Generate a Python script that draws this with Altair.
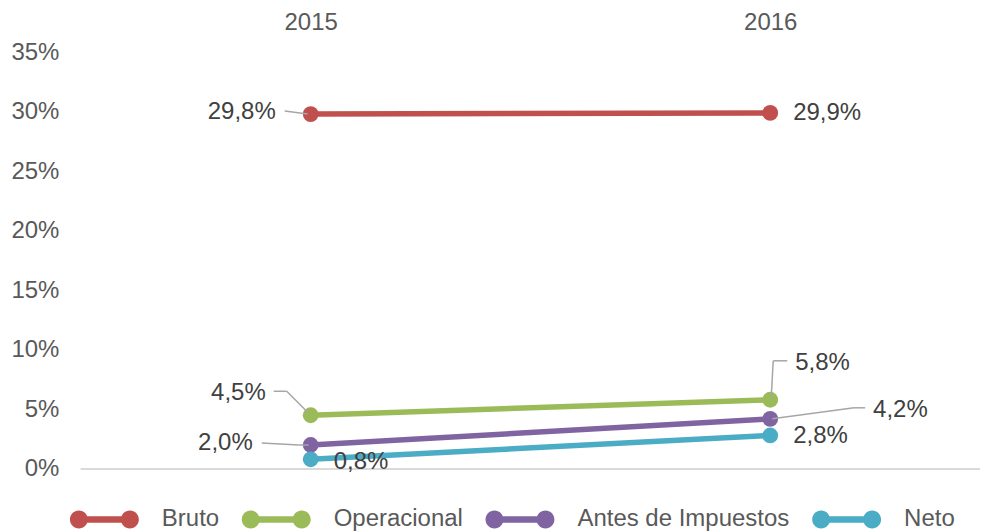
import altair as alt
import pandas as pd

# ---- data ----
years = [2015, 2016]
series = ["Bruto", "Operacional", "Antes de Impuestos", "Neto"]
bruto = [29.8, 29.9]
operacional = [4.5, 5.8]
antes_impuestos = [2.0, 4.2]
neto = [0.8, 2.8]
colors = ["#C0504D", "#9BBB59", "#8064A2", "#4BACC6"]
y_ticks = [0, 5, 10, 15, 20, 25, 30, 35]

values = {"Bruto": bruto, "Operacional": operacional,
          "Antes de Impuestos": antes_impuestos, "Neto": neto}

# ---- label placement (style, pixels relative to point) ----
label_style = {
    ("Bruto", 2015): ("right", -35, -2),
    ("Bruto", 2016): ("left", 23, 0),
    ("Operacional", 2015): ("right", -45, -22),
    ("Operacional", 2016): ("left", 25, -37),
    ("Antes de Impuestos", 2015): ("right", -58, -2),
    ("Antes de Impuestos", 2016): ("left", 103, -9),
    ("Neto", 2015): ("left", 23, 3),
    ("Neto", 2016): ("left", 23, 1),
}
leader_style = {
    ("Bruto", 2015): [(-26, -3), (-3, 0)],
    ("Operacional", 2015): [(-37, -24), (-24, -24), (-2, -2)],
    ("Operacional", 2016): [(17, -39), (3, -39), (1, -2)],
    ("Antes de Impuestos", 2015): [(-49, -2), (-12, 0), (-2, 0)],
    ("Antes de Impuestos", 2016): [(95, -11), (84, -11), (2, 0)],
}

rows, lab_rows, seg_rows = [], [], []
for s in series:
    for yr, v in zip(years, values[s]):
        rows.append({"serie": s, "year": yr, "value": v})
        side, dx, dy = label_style[(s, yr)]
        lab_rows.append({"serie": s, "year": yr, "value": v, "side": side, "dx": dx, "dy": dy})
        pts = leader_style.get((s, yr), [])
        for a, b in zip(pts[:-1], pts[1:]):
            seg_rows.append({"serie": s, "year": yr, "value": v,
                             "dx1": a[0], "dy1": a[1], "dx2": b[0], "dy2": b[1]})
df = pd.DataFrame(rows)
lab_df = pd.DataFrame(lab_rows)
seg_df = pd.DataFrame(seg_rows)

# ---- layout ----
W, H = 900, 417
px_per_year = 460
x_min = 2014.5
x_max = x_min + W / px_per_year
FONT = "Liberation Sans"
FS = 24
AXIS_COLOR = "#595959"

x_enc = alt.X("year:Q", scale=alt.Scale(domain=[x_min, x_max], nice=False, zero=False),
              axis=alt.Axis(orient="top", values=years, format="d", domain=False, ticks=False,
                            tickSize=0, grid=False, labelPadding=18, labelFontSize=FS,
                            labelColor=AXIS_COLOR, title=None))
y_enc = alt.Y("value:Q", scale=alt.Scale(domain=[0, 35], nice=False, zero=True),
              axis=alt.Axis(values=y_ticks, labelExpr="datum.value + '%'", domain=False,
                            ticks=False, tickSize=0, grid=False, labelPadding=22,
                            labelFontSize=FS, labelColor=AXIS_COLOR, title=None))

# legend glyph: two dots joined by a thick bar
legend_symbol = ("M-0.6,-0.093 L0.6,-0.093 L0.6,0.093 L-0.6,0.093 Z "
                 "M-1,0 A0.26,0.26 0 1,1 -0.48,0 A0.26,0.26 0 1,1 -1,0 Z "
                 "M0.48,0 A0.26,0.26 0 1,1 1,0 A0.26,0.26 0 1,1 0.48,0 Z")

color_scale = alt.Scale(domain=series, range=colors)
legend_def = alt.Legend(orient="none", legendX=-11, legendY=433,
                        direction="horizontal", title=None,
                        symbolType=legend_symbol, symbolSize=4761,
                        symbolStrokeWidth=0, symbolOpacity=1,
                        labelFontSize=FS, labelColor=AXIS_COLOR, labelLimit=0,
                        labelOffset=23, columnPadding=22, padding=0,
                        labelFont=FONT)

base = alt.Chart(df)

baseline = base.mark_rule(color="#d9d9d9", strokeWidth=1.5).encode(y=alt.datum(0))

lines = base.mark_line(strokeWidth=5.5).encode(
    x=x_enc, y=y_enc,
    color=alt.Color("serie:N", scale=color_scale, legend=legend_def),
    detail="serie:N",
)

points = base.mark_point(filled=True, size=250, opacity=1).encode(
    x=x_enc, y=y_enc,
    color=alt.Color("serie:N", scale=color_scale, legend=legend_def),
)

leaders = alt.Chart(seg_df).mark_rule(
    color="#a6a6a6", strokeWidth=1.5,
    xOffset=alt.ExprRef(expr="datum.dx1"), yOffset=alt.ExprRef(expr="datum.dy1"),
    x2Offset=alt.ExprRef(expr="datum.dx2"), y2Offset=alt.ExprRef(expr="datum.dy2"),
).encode(x=x_enc, y=y_enc, x2="year:Q", y2="value:Q")

label_text = "replace(format(datum.value, '.1f'), '.', ',') + '%'"

labels_right = alt.Chart(lab_df).transform_filter("datum.side == 'right'").transform_calculate(
    label=label_text).mark_text(
    align="right", baseline="middle", fontSize=FS, color="#404040", font=FONT,
    dx=alt.ExprRef(expr="datum.dx"), dy=alt.ExprRef(expr="datum.dy"),
).encode(x=x_enc, y=y_enc, text="label:N")

labels_left = alt.Chart(lab_df).transform_filter("datum.side == 'left'").transform_calculate(
    label=label_text).mark_text(
    align="left", baseline="middle", fontSize=FS, color="#404040", font=FONT,
    dx=alt.ExprRef(expr="datum.dx"), dy=alt.ExprRef(expr="datum.dy"),
).encode(x=x_enc, y=y_enc, text="label:N")

chart = alt.layer(baseline, lines, points, leaders, labels_right, labels_left).properties(
    width=W, height=H,
    padding={"left": 2, "top": 2, "right": 0, "bottom": 0},
).configure(font=FONT).configure_view(stroke=None)

chart.save("out.html", embed_options={"renderer": "svg", "actions": False})
